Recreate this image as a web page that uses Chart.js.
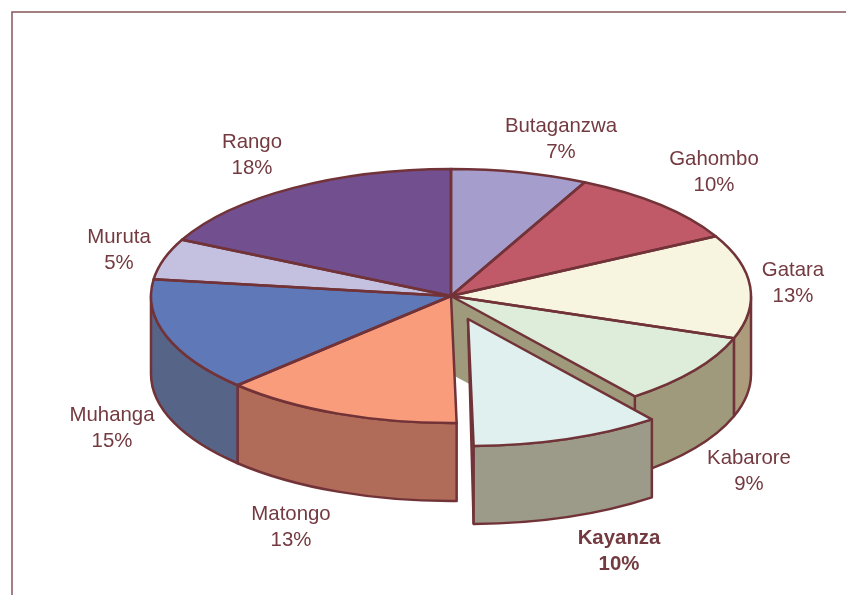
<!DOCTYPE html>
<html>
<head>
<meta charset="utf-8">
<title>Pie</title>
<script src="https://cdn.jsdelivr.net/npm/chart.js@4"></script>
<style>
  html, body { margin: 0; padding: 0; background: #fff; overflow: hidden; }
  canvas { display: block; }
</style>
</head>
<body>
<canvas id="pie" width="846" height="595"></canvas>
<script>
const communes = ["Butaganzwa", "Gahombo", "Gatara", "Kabarore", "Kayanza", "Matongo", "Muhanga", "Muruta", "Rango"];
// the labels show them rounded
const shares = [7.35, 9.85, 13.2, 9.1, 10.2, 12.9, 14.5, 5.2, 17.7];
const topColors = ["#a59dcb", "#c05a68", "#f7f4df", "#deecda", "#e0f0ee", "#f89c7c", "#5f78b8", "#c4c0df", "#724f8f"];
const wallColors = ["#8a83aa", "#a04b57", "#ad9c7c", "#9f9a7b", "#9c9a88", "#b06c58", "#566488", "#a4a0ba", "#5f4277"];

// label centres, first line
const labelSpots = [[561, 125], [714, 158], [793, 269], [749, 457], [619, 537], [291, 513], [112, 414], [119, 236], [252, 141]];

const squash = 127 / 300; // how flat the disc looks
const depth = 78;
const pulled = 4; // Kayanza slice
const pullX = 17, pullY = 23;
const lineColor = "#713338";
const lineWidth = 2.5;

const pie3d = {
  id: "pie3d",
  afterDatasetsUpdate(chart) {
    const arc = chart.getDatasetMeta(0).data[pulled];
    arc.x += pullX;
    arc.y += pullY / squash;
  },
  beforeDatasetsDraw(chart) {
    const ctx = chart.ctx;
    const arcs = chart.getDatasetMeta(0).data;
    const cy = arcs[0].y;
    const Y = (y) => cy + (y - cy) * squash;

    // frame
    ctx.save();
    ctx.strokeStyle = "#85545a";
    ctx.lineWidth = 1.5;
    ctx.strokeRect(12, 12, 900, 700);
    ctx.restore();

    // cut face left open behind the pulled slice
    const open = arcs[pulled - 1];
    const ex = open.x + open.outerRadius * Math.cos(open.endAngle);
    const ey = Y(open.y + open.outerRadius * Math.sin(open.endAngle));
    ctx.beginPath();
    ctx.moveTo(open.x, Y(open.y));
    ctx.lineTo(ex, ey);
    ctx.lineTo(ex, ey + depth);
    ctx.lineTo(open.x, Y(open.y) + depth);
    ctx.closePath();
    ctx.fillStyle = wallColors[pulled - 1];
    ctx.fill();

    // outer walls, only the front half of the disc shows
    ctx.lineWidth = lineWidth;
    ctx.strokeStyle = lineColor;
    ctx.lineJoin = "round";
    arcs.forEach((arc, i) => {
      const from = Math.max(arc.startAngle, 0);
      const to = Math.min(arc.endAngle, Math.PI);
      if (to <= from) return;
      const r = arc.outerRadius, y = Y(arc.y);
      if (i === pulled) {
        // left side of the pulled slice
        const lx = arc.x + r * Math.cos(to);
        const ly = y + r * squash * Math.sin(to);
        ctx.beginPath();
        ctx.moveTo(arc.x, y);
        ctx.lineTo(lx, ly);
        ctx.lineTo(lx, ly + depth);
        ctx.closePath();
        ctx.fillStyle = wallColors[i];
        ctx.fill();
        ctx.beginPath();
        ctx.moveTo(arc.x, y);
        ctx.lineTo(lx, ly + depth);
        ctx.stroke();
      }
      ctx.beginPath();
      ctx.ellipse(arc.x, y, r, r * squash, 0, from, to);
      ctx.ellipse(arc.x, y + depth, r, r * squash, 0, to, from, true);
      ctx.closePath();
      ctx.fillStyle = wallColors[i];
      ctx.fill();
      ctx.stroke();
    });
  },
  beforeDatasetDraw(chart) {
    const ctx = chart.ctx;
    const cy = chart.getDatasetMeta(0).data[0].y;
    ctx.save();
    ctx.translate(0, cy);
    ctx.scale(1, squash);
    ctx.translate(0, -cy);
  },
  afterDatasetDraw(chart) {
    const ctx = chart.ctx;
    ctx.restore();
    const arcs = chart.getDatasetMeta(0).data;
    const cy = arcs[0].y;
    ctx.save();
    ctx.lineWidth = lineWidth;
    ctx.strokeStyle = lineColor;
    ctx.lineJoin = "round";
    arcs.forEach((arc) => {
      const y = cy + (arc.y - cy) * squash;
      ctx.beginPath();
      ctx.moveTo(arc.x, y);
      ctx.ellipse(arc.x, y, arc.outerRadius, arc.outerRadius * squash, 0, arc.startAngle, arc.endAngle);
      ctx.closePath();
      ctx.stroke();
    });
    ctx.restore();
  },
  afterDraw(chart) {
    const ctx = chart.ctx;
    ctx.save();
    ctx.fillStyle = "#733a40";
    ctx.textAlign = "center";
    ctx.textBaseline = "middle";
    communes.forEach((name, i) => {
      const [x, y] = labelSpots[i];
      ctx.font = (i === pulled ? "bold " : "") + "20.4px 'Liberation Sans', Arial, sans-serif";
      ctx.fillText(name, x, y + 1);
      ctx.fillText(Math.round(shares[i]) + "%", x, y + 27);
    });
    ctx.restore();
  }
};

new Chart(document.getElementById("pie"), {
  type: "pie",
  data: {
    labels: communes,
    datasets: [{
      data: shares,
      backgroundColor: topColors,
      borderWidth: 0,
      clip: false
    }]
  },
  options: {
    responsive: false,
    animation: false,
    radius: 300,
    layout: { padding: { left: 56, bottom: 3 } },
    plugins: {
      legend: { display: false },
      tooltip: { enabled: false }
    }
  },
  plugins: [pie3d]
});
</script>
</body>
</html>
